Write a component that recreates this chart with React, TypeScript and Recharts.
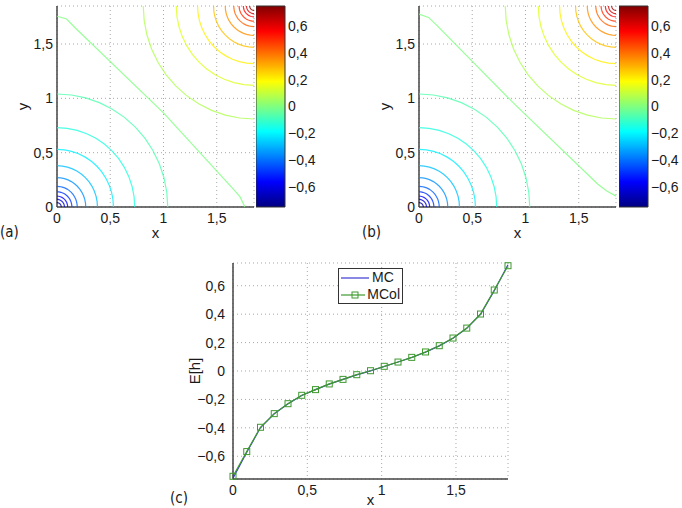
import React from "react";
import {
  ScatterChart,
  Scatter,
  ComposedChart,
  ReferenceArea,
  LineChart,
  Line,
  XAxis,
  YAxis,
  CartesianGrid,
  Legend,
} from "recharts";

// ---- panels (a)/(b): contour levels ----
const XMAX = 1.85;
const axisTicks = [0, 0.5, 1, 1.5];
const cbTicks = [-0.6, -0.4, -0.2, 0, 0.2, 0.4, 0.6];
// radius of each contour arc around the corner, outermost first
const arcRadii = [1.04, 0.73, 0.53, 0.38, 0.27, 0.19, 0.14, 0.1, 0.07, 0.04];
// |level| of each arc (negative near the origin, positive near the far corner)
const arcLevels = [0.07, 0.14, 0.21, 0.28, 0.35, 0.42, 0.49, 0.56, 0.63, 0.7];
const arcAngles = [0, 7.5, 15, 22.5, 30, 37.5, 45, 52.5, 60, 67.5, 75, 82.5, 90];

// zero contour
const zeroLineA = [
  { x: 0, y: 1.756 },
  { x: 0.09, y: 1.73 },
  { x: 0.17, y: 1.65 },
  { x: 1.0, y: 0.867 },
  { x: 1.66, y: 0.16 },
  { x: 1.718, y: 0.095 },
  { x: 1.765, y: 0 },
];
const zeroLineB = [
  { x: 0, y: 1.775 },
  { x: 0.09, y: 1.745 },
  { x: 0.17, y: 1.67 },
  { x: 0.9, y: 0.944 },
  { x: 1.68, y: 0.21 },
  { x: 1.76, y: 0.15 },
  { x: 1.85, y: 0.1 },
];

// ---- panel (c) ----
const xs = [
  0, 0.0925, 0.185, 0.2775, 0.37, 0.4625, 0.555, 0.6475, 0.74, 0.8325, 0.925,
  1.0175, 1.11, 1.2025, 1.295, 1.3875, 1.48, 1.5725, 1.665, 1.7575, 1.85,
];
const mcol = [
  -0.741, -0.567, -0.396, -0.3, -0.23, -0.171, -0.131, -0.091, -0.059, -0.026,
  0.002, 0.033, 0.063, 0.096, 0.134, 0.178, 0.232, 0.302, 0.401, 0.57, 0.741,
];
const mc = [
  -0.755, -0.572, -0.398, -0.301, -0.231, -0.172, -0.131, -0.092, -0.059,
  -0.027, 0.001, 0.032, 0.063, 0.095, 0.133, 0.177, 0.231, 0.3, 0.398, 0.565,
  0.748,
];

const TXT = "#1a1a1a";
const GRID = "#a8a8a8";
const AXIS = "#444";

function jet(v: number) {
  const t = (v + 0.75) / 1.5;
  const c = (d: number) =>
    Math.round(255 * Math.max(0, Math.min(1, 1.5 - Math.abs(4 * t - d))));
  return `rgb(${c(3)},${c(2)},${c(1)})`;
}

const fmt = (v: number) => String(v).replace(".", ",").replace("-", "\u2212");

const rad = (a: number) => (a * Math.PI) / 180;
const lowArcs = arcRadii.map((r, i) => ({
  color: jet(-arcLevels[i]),
  pts: arcAngles.map((a) => ({ x: r * Math.cos(rad(a)), y: r * Math.sin(rad(a)) })),
}));
const highArcs = arcRadii.map((r, i) => ({
  color: jet(arcLevels[i]),
  pts: arcAngles.map((a) => ({
    x: XMAX - r * Math.cos(rad(a)),
    y: XMAX - r * Math.sin(rad(a)),
  })),
}));

const noDot = () => <g />;

const vLabel = (text: string, dx: number) => ({
  content: (props: any) => {
    const vb = props.viewBox || {};
    const cx = vb.x + dx;
    const cy = vb.y + vb.height / 2;
    return (
      <text
        x={cx}
        y={cy}
        transform={`rotate(-90 ${cx} ${cy})`}
        textAnchor="middle"
        dominantBaseline="central"
        fontSize={15}
        fill={TXT}
      >
        {text}
      </text>
    );
  },
});

function ContourPanel({ zero }: { zero: { x: number; y: number }[] }) {
  const lineStyle = (color: string) => ({ stroke: color, strokeWidth: 1.2, strokeOpacity: 0.8 });
  return (
    <ScatterChart width={340} height={250} margin={{ top: 6, right: 86, bottom: 13, left: 12 }}>
      <CartesianGrid stroke={GRID} strokeDasharray="1 3" />
      <XAxis
        type="number"
        dataKey="x"
        domain={[0, XMAX]}
        ticks={axisTicks}
        tickFormatter={fmt}
        height={30}
        tickSize={4}
        tickMargin={2}
        tickLine={false}
        stroke={AXIS}
        strokeWidth={1.5}
        tick={{ fontSize: 14, fill: TXT }}
        label={{ value: "x", position: "insideBottom", offset: -1, fontSize: 15, fill: TXT }}
      />
      <YAxis
        type="number"
        dataKey="y"
        domain={[0, XMAX]}
        ticks={axisTicks}
        tickFormatter={fmt}
        width={45}
        tickSize={2}
        tickMargin={2}
        tickLine={false}
        stroke={AXIS}
        strokeWidth={1.5}
        tick={{ fontSize: 14, fill: TXT }}
        label={vLabel("y", 10)}
      />
      {lowArcs.map((a, i) => (
        <Scatter
          key={`lo${i}`}
          data={a.pts}
          fill={a.color}
          line={lineStyle(a.color)}
          shape={noDot}
          isAnimationActive={false}
        />
      ))}
      {highArcs.map((a, i) => (
        <Scatter
          key={`hi${i}`}
          data={a.pts}
          fill={a.color}
          line={lineStyle(a.color)}
          shape={noDot}
          isAnimationActive={false}
        />
      ))}
      <Scatter
        data={zero}
        fill={jet(0)}
        line={lineStyle(jet(0))}
        shape={noDot}
        isAnimationActive={false}
      />
    </ScatterChart>
  );
}

const jetStops = [
  { o: 0, c: "#000080" },
  { o: 0.125, c: "#0000ff" },
  { o: 0.375, c: "#00ffff" },
  { o: 0.625, c: "#ffff00" },
  { o: 0.875, c: "#ff0000" },
  { o: 1, c: "#800000" },
];

function ColorBar({ id }: { id: string }) {
  const data = cbTicks.map((v) => ({ x: 0.5, v }));
  return (
    <ComposedChart width={80} height={250} data={data} margin={{ top: 6, right: 11, bottom: 43, left: 0 }}>
      <defs>
        <linearGradient id={id} x1="0" y1="1" x2="0" y2="0">
          {jetStops.map((s) => (
            <stop key={s.o} offset={s.o} stopColor={s.c} />
          ))}
        </linearGradient>
      </defs>
      <XAxis type="number" dataKey="x" domain={[0, 1]} hide />
      <YAxis
        type="number"
        dataKey="v"
        orientation="right"
        domain={[-0.75, 0.75]}
        ticks={cbTicks}
        tickFormatter={fmt}
        width={40}
        tickSize={0}
        tickMargin={3}
        tickLine={false}
        axisLine={false}
        tick={{ fontSize: 14, fill: TXT }}
      />
      <ReferenceArea
        x1={0}
        x2={1}
        y1={-0.75}
        y2={0.75}
        fill={`url(#${id})`}
        fillOpacity={1}
        stroke="#333"
        strokeWidth={1}
        ifOverflow="visible"
      />
    </ComposedChart>
  );
}

const MC_COLOR = "#3b3bd4";
const MCOL_COLOR = "#3f9a2e";

const squareDot = (p: any) => (
  <rect
    key={`sq${p.index}`}
    x={p.cx - 3}
    y={p.cy - 3}
    width={6}
    height={6}
    fill="none"
    stroke={MCOL_COLOR}
    strokeWidth={1}
  />
);

function LegendBox() {
  const row = (name: string, color: string, marker: boolean) => (
    <div style={{ display: "flex", alignItems: "center", height: 17 }}>
      <svg width={30} height={10} style={{ marginRight: 2 }}>
        <line x1={1} y1={5} x2={29} y2={5} stroke={color} strokeWidth={1.2} />
        {marker && <rect x={12} y={2} width={6} height={6} fill="none" stroke={color} />}
      </svg>
      <span>{name}</span>
    </div>
  );
  return (
    <div
      style={{
        border: "1px solid #333",
        background: "#fff",
        padding: "0px 2px 0 1px",
        fontSize: 14,
        color: TXT,
        lineHeight: "17px",
        width: 60,
      }}
    >
      {row("MC", MC_COLOR, false)}
      {row("MCol", MCOL_COLOR, true)}
    </div>
  );
}

function LinePanel() {
  const data = xs.map((x, i) => ({ x, mc: mc[i], mcol: mcol[i] }));
  return (
    <LineChart width={350} height={258} data={data} margin={{ top: 13, right: 12, bottom: 4, left: 18 }}>
      <CartesianGrid stroke={GRID} strokeDasharray="1 3" />
      <XAxis
        type="number"
        dataKey="x"
        domain={[0, XMAX]}
        ticks={axisTicks}
        tickFormatter={fmt}
        height={25}
        tickSize={4}
        tickMargin={2}
        tickLine={false}
        stroke={AXIS}
        strokeWidth={1.5}
        tick={{ fontSize: 14, fill: TXT }}
        label={{ value: "x", position: "insideBottom", offset: -1, fontSize: 15, fill: TXT }}
      />
      <YAxis
        type="number"
        domain={[-0.76, 0.76]}
        ticks={cbTicks}
        tickFormatter={fmt}
        width={45}
        tickSize={4}
        tickMargin={4}
        tickLine={false}
        stroke={AXIS}
        strokeWidth={1.5}
        tick={{ fontSize: 14, fill: TXT }}
        label={vLabel("E[h]", 6)}
      />
      <Legend
        layout="vertical"
        align="center"
        verticalAlign="middle"
        wrapperStyle={{ left: 168, top: 18, width: 66 }}
        content={() => <LegendBox />}
      />
      <Line
        dataKey="mc"
        name="MC"
        type="linear"
        stroke={MC_COLOR}
        strokeWidth={1.2}
        dot={false}
        isAnimationActive={false}
      />
      <Line
        dataKey="mcol"
        name="MCol"
        type="linear"
        stroke={MCOL_COLOR}
        strokeWidth={1.2}
        dot={squareDot}
        isAnimationActive={false}
      />
    </LineChart>
  );
}

const letter: React.CSSProperties = {
  position: "absolute",
  fontSize: 15,
  fontFamily: "'Liberation Sans Narrow', 'DejaVu Sans Condensed', sans-serif",
  color: TXT,
  lineHeight: "16px",
};

export default function App() {
  return (
    <div
      style={{
        position: "absolute",
        left: 0,
        top: 0,
        width: 682,
        height: 508,
        background: "#fff",
        overflow: "hidden",
        fontFamily: "'Liberation Sans', Arial, sans-serif",
      }}
    >
      <div style={{ position: "absolute", left: 0, top: 0 }}>
        <ContourPanel zero={zeroLineA} />
      </div>
      <div style={{ position: "absolute", left: 256, top: 0 }}>
        <ColorBar id="jetA" />
      </div>
      <div style={{ position: "absolute", left: 362, top: 0 }}>
        <ContourPanel zero={zeroLineB} />
      </div>
      <div style={{ position: "absolute", left: 619, top: 0 }}>
        <ColorBar id="jetB" />
      </div>
      <div style={{ position: "absolute", left: 170, top: 250 }}>
        <LinePanel />
      </div>
      <div style={{ ...letter, left: 0, top: 224 }}>(a)</div>
      <div style={{ ...letter, left: 362, top: 224 }}>(b)</div>
      <div style={{ ...letter, left: 170, top: 490 }}>(c)</div>
    </div>
  );
}
